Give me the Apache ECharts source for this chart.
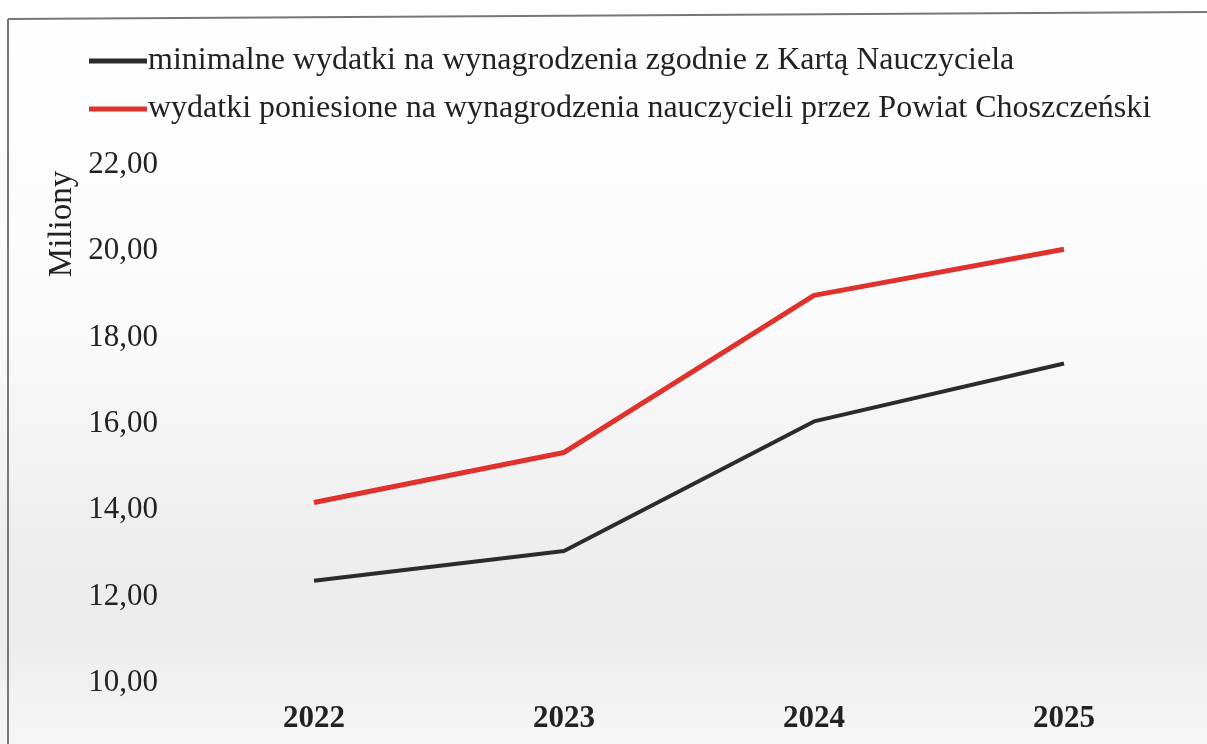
<!DOCTYPE html>
<html>
<head>
<meta charset="utf-8">
<script src="https://cdn.jsdelivr.net/npm/echarts@6/dist/echarts.min.js"></script>
<style>
html,body{margin:0;padding:0;background:#fff;}
#c{width:1207px;height:744px;}
</style>
</head>
<body>
<div id="c"></div>
<script>
const categories = ['2022', '2023', '2024', '2025'];
const minimalne = [12.37, 13.06, 16.06, 17.40];
const poniesione = [14.18, 15.34, 18.98, 20.05];
const seriesNames = [
  'minimalne wydatki na wynagrodzenia zgodnie z Kartą Nauczyciela',
  'wydatki poniesione na wynagrodzenia nauczycieli przez Powiat Choszczeński'
];
const yMin = 10, yMax = 22, yStep = 2;

const chart = echarts.init(document.getElementById('c'));
const serif = '"Liberation Serif", "Times New Roman", serif';
chart.setOption({
  animation: false,
  backgroundColor: {
    type: 'linear', x: 0, y: 0, x2: 0, y2: 1,
    colorStops: [
      {offset: 0, color: '#ffffff'},
      {offset: 0.45, color: '#fafafa'},
      {offset: 0.72, color: '#eeeeee'},
      {offset: 0.85, color: '#ececec'},
      {offset: 1, color: '#f6f6f6'}
    ]
  },
  graphic: [
    {type: 'line', shape: {x1: 8, y1: 19, x2: 8, y2: 744}, style: {stroke: '#777', lineWidth: 2}},
    {type: 'line', shape: {x1: 8, y1: 19, x2: 1207, y2: 12}, style: {stroke: '#777', lineWidth: 2}},
    {type: 'text', rotation: Math.PI / 2, position: [46, 224],
      style: {text: 'Miliony', font: '33px ' + serif, fill: '#222', align: 'center', verticalAlign: 'top'}}
  ],
  legend: {
    orient: 'vertical',
    left: 84, top: 40,
    itemWidth: 58, itemHeight: 5,
    itemGap: 16,
    icon: 'rect',
    textStyle: {fontFamily: serif, fontSize: 32, color: '#222', padding: [0, 0, 0, -4]},
    data: seriesNames
  },
  grid: {left: 189, right: 18, top: 165, bottom: 61},
  xAxis: {
    type: 'category',
    data: categories,
    boundaryGap: true,
    axisLine: {show: false},
    axisTick: {show: false},
    axisLabel: {fontFamily: serif, fontSize: 31, fontWeight: 'bold', color: '#222', margin: 20}
  },
  yAxis: {
    type: 'value',
    min: yMin, max: yMax, interval: yStep,
    axisLine: {show: false},
    axisTick: {show: false},
    splitLine: {show: false},
    axisLabel: {fontFamily: serif, fontSize: 31, color: '#222', margin: 31,
      formatter: v => v.toFixed(2).replace('.', ',')}
  },
  series: [
    {name: seriesNames[0], type: 'line', data: minimalne, symbol: 'none',
      lineStyle: {color: '#2b2b2b', width: 4}, itemStyle: {color: '#2b2b2b'}},
    {name: seriesNames[1], type: 'line', data: poniesione, symbol: 'none',
      lineStyle: {color: '#e0322d', width: 5}, itemStyle: {color: '#e0322d'}}
  ]
});
</script>
</body>
</html>
